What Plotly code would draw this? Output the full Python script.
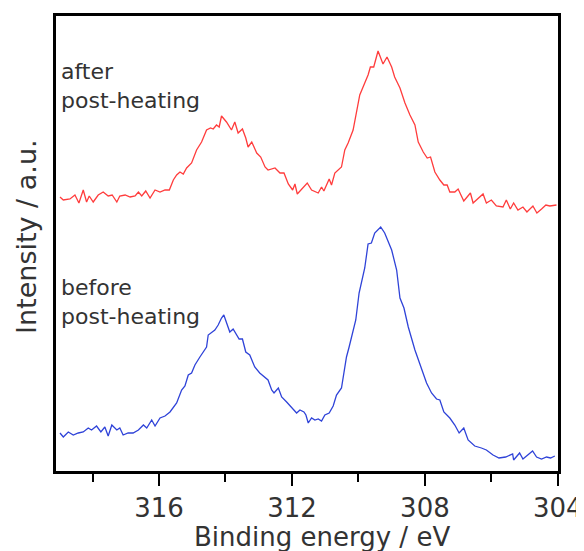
import plotly.graph_objects as go

# Binding energy (eV) and intensity (a.u.)
after_energy = [318.98, 318.88, 318.68, 318.53, 318.41, 318.28, 318.18, 318.10, 317.98, 317.83,
                317.68, 317.53, 317.41, 317.27, 317.18, 317.02, 316.87, 316.72, 316.62, 316.52,
                316.40, 316.27, 316.12, 315.97, 315.82, 315.69, 315.57, 315.47, 315.37, 315.27,
                315.17, 315.02, 314.87, 314.72, 314.57, 314.45, 314.37, 314.27, 314.19, 314.12,
                313.97, 313.82, 313.72, 313.62, 313.49, 313.39, 313.32, 313.21, 313.06, 312.94,
                312.81, 312.72, 312.51, 312.36, 312.24, 312.11, 311.98, 311.91, 311.84, 311.71,
                311.54, 311.41, 311.21, 311.11, 311.04, 310.88, 310.81, 310.71, 310.61, 310.51,
                310.41, 310.31, 310.16, 310.06, 309.96, 309.81, 309.71, 309.64, 309.54, 309.41,
                309.26, 309.14, 309.00, 308.91, 308.75, 308.60, 308.45, 308.30, 308.20, 308.05,
                307.93, 307.83, 307.70, 307.55, 307.43, 307.33, 307.25, 307.10, 307.00, 306.83,
                306.63, 306.55, 306.40, 306.25, 306.15, 306.00, 305.85, 305.65, 305.55, 305.43,
                305.33, 305.20, 305.05, 304.93, 304.75, 304.63, 304.49, 304.36, 304.24, 304.04]
after_intensity = [274, 271, 272, 276, 268, 281, 269, 275, 269, 276,
                   279, 275, 276, 269, 275, 276, 274, 275, 279, 275,
                   280, 273, 281, 279, 281, 281, 291, 296, 299, 297,
                   303, 308, 321, 329, 341, 343, 342, 346, 344, 355,
                   349, 341, 349, 338, 342, 333, 324, 329, 318, 314,
                   304, 301, 303, 298, 298, 287, 281, 287, 277, 282,
                   288, 281, 278, 284, 280, 292, 286, 298, 301, 304,
                   321, 328, 341, 358, 376, 388, 396, 404, 404, 420,
                   407, 414, 404, 394, 383, 368, 356, 346, 329, 319,
                   313, 314, 299, 291, 286, 286, 279, 279, 282, 270,
                   278, 268, 273, 277, 268, 271, 265, 264, 271, 262,
                   268, 261, 264, 259, 265, 258, 262, 266, 265, 266]

before_energy = [318.98, 318.88, 318.73, 318.58, 318.43, 318.28, 318.13, 318.03, 317.88, 317.75,
                 317.63, 317.53, 317.42, 317.27, 317.18, 317.08, 316.93, 316.78, 316.62, 316.47,
                 316.37, 316.22, 316.12, 315.97, 315.82, 315.67, 315.47, 315.32, 315.22, 315.12,
                 315.02, 314.92, 314.77, 314.67, 314.57, 314.52, 314.42, 314.32, 314.22, 314.12,
                 314.05, 313.95, 313.87, 313.77, 313.65, 313.59, 313.49, 313.39, 313.27, 313.12,
                 312.97, 312.81, 312.72, 312.61, 312.54, 312.41, 312.31, 312.16, 312.01, 311.86,
                 311.76, 311.64, 311.58, 311.51, 311.41, 311.31, 311.21, 311.11, 311.01, 310.88,
                 310.76, 310.66, 310.51, 310.44, 310.36, 310.28, 310.21, 310.08, 309.98, 309.88,
                 309.81, 309.71, 309.61, 309.51, 309.33, 309.21, 309.00, 308.85, 308.75, 308.63,
                 308.50, 308.30, 308.10, 307.95, 307.80, 307.65, 307.55, 307.43, 307.25, 307.10,
                 306.97, 306.83, 306.70, 306.50, 306.30, 306.15, 305.95, 305.77, 305.57, 305.36,
                 305.33, 305.15, 305.05, 304.90, 304.76, 304.64, 304.49, 304.34, 304.22, 304.09]
before_intensity = [38, 34, 39, 36, 38, 39, 43, 41, 45, 39,
                    44, 35, 46, 41, 43, 36, 38, 38, 41, 46,
                    43, 51, 45, 53, 55, 59, 68, 81, 85, 96,
                    98, 106, 114, 119, 124, 136, 139, 141, 146, 153,
                    156, 146, 139, 142, 136, 132, 132, 119, 116, 104,
                    98, 94, 91, 81, 78, 83, 74, 69, 64, 58,
                    61, 59, 56, 48, 53, 51, 52, 50, 56, 58,
                    65, 76, 83, 96, 114, 124, 134, 151, 178, 194,
                    203, 227, 228, 238, 244, 238, 221, 201, 173, 163,
                    144, 121, 101, 88, 78, 72, 71, 59, 53, 46,
                    38, 43, 31, 25, 23, 21, 16, 13, 14, 17,
                    11, 18, 12, 16, 20, 14, 12, 14, 13, 15]

x_range = [319.1, 303.995]
y_range = [0, 455]
text_font = "DejaVu Sans, sans-serif"
text_color = "#333333"

# The page body adds an 8 px offset; size the figure so the plot box lands
# at screen x 56..558, y 16..471.
OFF = 8
W, H = 584 - OFF, 551 - OFF
BOX_L, BOX_R, BOX_T, BOX_B = 56, 558, 16, 471
ML, MR = BOX_L - OFF, W - (BOX_R - OFF)
MT, MB = BOX_T - OFF, H - (BOX_B - OFF)
PW, PH = W - ML - MR, H - MT - MB


def px_x(sx):
    return (sx - OFF - ML) / PW


def px_y(sy):
    return (H - MB - (sy - OFF)) / PH


fig = go.Figure()
fig.add_trace(go.Scatter(x=after_energy, y=after_intensity, mode="lines",
                         line=dict(color="#ff3c3c", width=1.3), showlegend=False))
fig.add_trace(go.Scatter(x=before_energy, y=before_intensity, mode="lines",
                         line=dict(color="#2f43d8", width=1.3), showlegend=False))

fig.update_layout(
    width=W, height=H,
    margin=dict(l=ML, r=MR, t=MT, b=MB, autoexpand=False),
    plot_bgcolor="white", paper_bgcolor="white",
    font=dict(family=text_font, color=text_color),
    xaxis=dict(range=x_range, showgrid=False, zeroline=False, automargin=False,
               showline=True, linecolor="black", linewidth=2.5, mirror=True,
               ticks="outside", ticklen=12, tickwidth=2, tickcolor="black",
               tick0=304, dtick=4, tickfont=dict(size=26, color=text_color),
               minor=dict(ticks="outside", ticklen=8, tickwidth=2, tickcolor="black",
                          tick0=304, dtick=2)),
    yaxis=dict(range=y_range, showgrid=False, zeroline=False, automargin=False,
               showline=True, linecolor="black", linewidth=2.5, mirror=True,
               showticklabels=False, ticks=""),
    annotations=[
        dict(text="Binding energy / eV", xref="paper", yref="paper",
             x=px_x(322), y=px_y(537), showarrow=False,
             xanchor="center", yanchor="middle",
             font=dict(size=26, color=text_color)),
        dict(text="Intensity / a.u.", xref="paper", yref="paper",
             x=px_x(26), y=px_y(237),
             textangle=-90, showarrow=False, xanchor="center", yanchor="middle",
             font=dict(size=27, color=text_color)),
        dict(text="after<br>post-heating", xref="paper", yref="paper",
             x=px_x(59), y=px_y(86),
             showarrow=False, xanchor="left", yanchor="middle", align="left",
             font=dict(size=22, color=text_color)),
        dict(text="before<br>post-heating", xref="paper", yref="paper",
             x=px_x(59), y=px_y(302),
             showarrow=False, xanchor="left", yanchor="middle", align="left",
             font=dict(size=22, color=text_color)),
    ],
)

fig.write_html("out.html")
